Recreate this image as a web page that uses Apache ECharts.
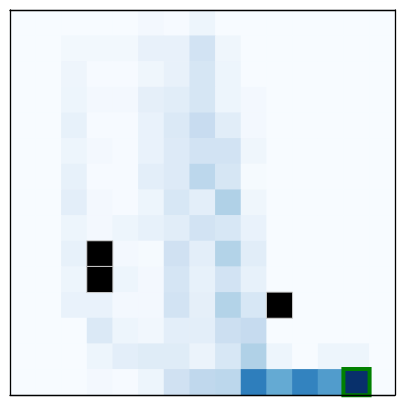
<!DOCTYPE html>
<html><head><meta charset="utf-8">
<script src="https://cdn.jsdelivr.net/npm/echarts@6/dist/echarts.min.js"></script>
<style>html,body{margin:0;padding:0;background:#fff}#c{width:405px;height:405px}</style>
</head><body><div id="c"></div>
<script>
const cols = ['0','1','2','3','4','5','6','7','8','9','10','11','12','13','14'];
const rowsCat = ['0','1','2','3','4','5','6','7','8','9','10','11','12','13','14'];
const r0  = [0,0,0,0,0,0.02,0.005,0.05,0,0,0,0,0,0,0];
const r1  = [0,0,0.025,0.025,0.025,0.075,0.075,0.19,0.04,0,0,0,0,0,0];
const r2  = [0,0,0.045,0.005,0.005,0.04,0.075,0.165,0.05,0,0,0,0,0,0];
const r3  = [0,0,0.05,0.02,0.02,0.09,0.11,0.165,0.05,0.02,0,0,0,0,0];
const r4  = [0,0,0.08,0.005,0.005,0.07,0.14,0.24,0.11,0.02,0,0,0,0,0];
const r5  = [0,0,0.05,0.02,0.005,0.07,0.13,0.19,0.19,0.04,0,0,0,0,0];
const r6  = [0,0,0.08,0.005,0.005,0.1,0.13,0.28,0.165,0.01,0,0,0,0,0];
const r7  = [0,0,0.1,0.02,0.005,0.05,0.16,0.1,0.32,0.04,0,0,0,0,0];
const r8  = [0,0,0.05,0.02,0.05,0.08,0.11,0.19,0.16,0.07,0,0,0,0,0];
const r9  = [0,0,0.08,null,0.02,0.01,0.2,0.1,0.31,0.11,0,0,0,0,0];
const r10 = [0,0,0.05,null,0.05,0.02,0.17,0.08,0.19,0.08,0,0,0,0,0];
const r11 = [0,0,0.07,0.07,0.02,0.02,0.19,0.09,0.31,0.16,null,0,0,0,0];
const r12 = [0,0,0,0.14,0.05,0.03,0.1,0.1,0.22,0.25,0,0,0,0,0];
const r13 = [0,0,0,0.05,0.1,0.12,0.12,0.06,0.16,0.32,0.05,0,0.05,0.05,0];
const r14 = [0,0,0,0.02,0.005,0.05,0.2,0.27,0.28,0.7,0.52,0.68,0.58,1.0,0];
const rows = [r0,r1,r2,r3,r4,r5,r6,r7,r8,r9,r10,r11,r12,r13,r14];
const blackCells = [[3,9],[3,10],[10,11]];
const highlightCell = [13,14];
const blues = ['#f7fbff','#deebf7','#c6dbef','#9ecae1','#6baed6','#4292c6','#2171b5','#08519c','#08306b'];

const mainData = [];
rows.forEach((row, y) => row.forEach((v, x) => { if (v !== null) mainData.push([x, y, v]); }));
const hlVal = rows[highlightCell[1]][highlightCell[0]];

const chart = echarts.init(document.getElementById('c'), null, {renderer:'canvas'});
const hiddenAxis = {axisLabel:{show:false}, axisTick:{show:false}, splitLine:{show:false}};
chart.setOption({
  animation:false,
  grid:{left:10, top:10, width:385, height:385},
  xAxis:[
    Object.assign({type:'category', data:cols, position:'bottom', axisLine:{show:true, lineStyle:{color:'#000', width:1.3}}, z:10}, hiddenAxis),
    Object.assign({type:'category', data:cols, position:'top', axisLine:{show:true, lineStyle:{color:'#000', width:1.3}}, z:10}, hiddenAxis)
  ],
  yAxis:[
    Object.assign({type:'category', data:rowsCat, inverse:true, position:'left', axisLine:{show:true, lineStyle:{color:'#000', width:1.3}}, z:10}, hiddenAxis),
    Object.assign({type:'category', data:rowsCat, inverse:true, position:'right', axisLine:{show:true, lineStyle:{color:'#000', width:1.3}}, z:10}, hiddenAxis)
  ],
  visualMap:{show:false, min:0, max:1, seriesIndex:0, inRange:{color:blues}},
  series:[
    {type:'heatmap', xAxisIndex:0, yAxisIndex:0, data:mainData, z:1},
    {type:'heatmap', xAxisIndex:0, yAxisIndex:0, data:blackCells.map(c=>[c[0],c[1],1]), z:2,
      itemStyle:{color:'#000', borderColor:'#d0d0d0', borderWidth:1}},
    {type:'heatmap', xAxisIndex:0, yAxisIndex:0, data:[[highlightCell[0],highlightCell[1],hlVal]], z:3,
      itemStyle:{color:'#08306b', borderColor:'#008000', borderWidth:4}}
  ]
});
</script></body></html>
